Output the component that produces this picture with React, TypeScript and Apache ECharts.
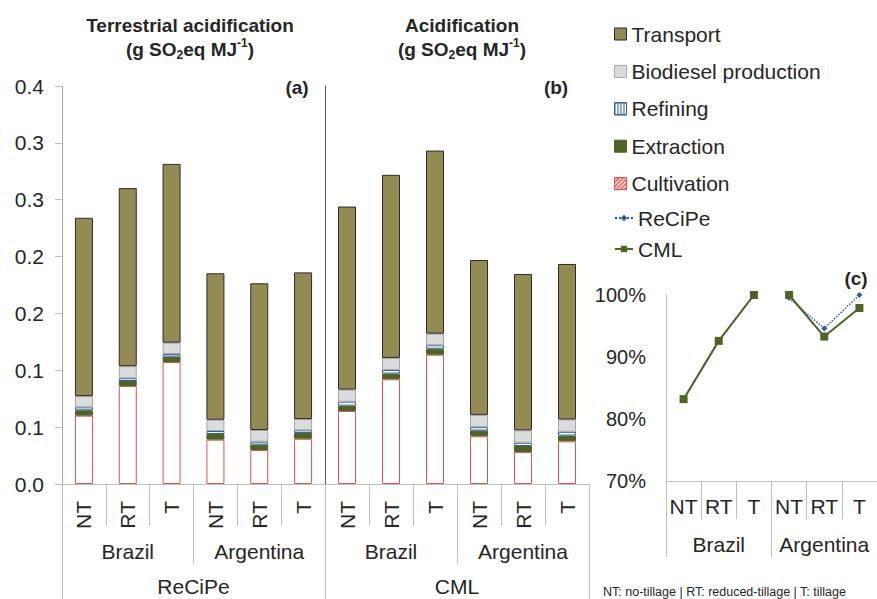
import React, { useEffect, useRef } from 'react';
import * as echarts from 'echarts';

// ---------- data ----------
const tillage = ['NT', 'RT', 'T', 'NT', 'RT', 'T'];
const countries = ['Brazil', 'Argentina'];
const methodLeft = ['ReCiPe'];
const methodRight = ['CML'];

// Panel (a): ReCiPe terrestrial acidification (g SO2eq/MJ), order: Brazil NT,RT,T, Argentina NT,RT,T
const recipeCultivation = [0.0601, 0.0862, 0.1073, 0.0390, 0.0299, 0.0398];
const recipeExtraction = [0.0047, 0.0044, 0.0047, 0.0050, 0.0047, 0.0050];
const recipeRefining = [0.0026, 0.0024, 0.0024, 0.0026, 0.0026, 0.0024];
const recipeBiodiesel = [0.0099, 0.0106, 0.0099, 0.0099, 0.0103, 0.0099];
const recipeTransport = [0.1568, 0.1566, 0.1572, 0.1288, 0.1290, 0.1290];

// Panel (b): CML acidification (g SO2eq/MJ)
const cmlCultivation = [0.0642, 0.0921, 0.1137, 0.0420, 0.0281, 0.0376];
const cmlExtraction = [0.0047, 0.0050, 0.0053, 0.0050, 0.0053, 0.0050];
const cmlRefining = [0.0035, 0.0032, 0.0030, 0.0030, 0.0029, 0.0033];
const cmlBiodiesel = [0.0106, 0.0106, 0.0102, 0.0108, 0.0109, 0.0108];
const cmlTransport = [0.1610, 0.1610, 0.1610, 0.1362, 0.1375, 0.1368];

// Panel (c): relative values (%)
const recipeRelBrazil = [83.2, 92.6, 100];
const recipeRelArgentina = [99.5, 94.6, 100];
const cmlRelBrazil = [83.2, 92.6, 100];
const cmlRelArgentina = [100, 93.3, 97.9];

const yTicksLeft = { min: 0, max: 0.35, interval: 0.05 };
const yTicksRel = { min: 70, max: 100, interval: 10 };

// ---------- styles ----------
const FONT = 'Liberation Sans, Arial, sans-serif';
const TEXT = '#262626';
const AXIS = '#bfbfbf';

const stageStyles: Record<string, any> = {
  Transport: { color: '#948a54', borderColor: '#2b2b2b', borderWidth: 1 },
  'Biodiesel production': { color: '#dcdcdc', borderColor: '#a6a6a6', borderWidth: 1 },
  Refining: { color: '#ffffff', borderColor: '#2f5f9a', borderWidth: 1 },
  Extraction: { color: '#4f6228', borderColor: '#4f6228', borderWidth: 1 },
  Cultivation: { color: '#ffffff', borderColor: '#d9534f', borderWidth: 1 },
};

const legendStageStyles: Record<string, any> = {
  Transport: { color: '#948a54', borderColor: '#2b2b2b', borderWidth: 1 },
  'Biodiesel production': { color: '#dcdcdc', borderColor: '#a6a6a6', borderWidth: 1 },
  Refining: {
    color: '#ffffff', borderColor: '#2f5f9a', borderWidth: 1,
    decal: { symbol: 'rect', symbolSize: 1, color: '#2f5f9a', backgroundColor: '#ffffff', dashArrayX: [1, 1.5], dashArrayY: [1, 0], rotation: 0 },
  },
  Extraction: { color: '#4f6228', borderColor: '#4f6228', borderWidth: 1 },
  Cultivation: {
    color: '#f4c7c3', borderColor: '#d9534f', borderWidth: 1,
    decal: { symbol: 'rect', symbolSize: 1, color: '#d9534f', backgroundColor: '#ffffff', dashArrayX: [1, 1.5], dashArrayY: [1, 0], rotation: Math.PI / 4 },
  },
};

const stageOrderLegend = ['Transport', 'Biodiesel production', 'Refining', 'Extraction', 'Cultivation'];

function fmtLeft(v: number) {
  return (Math.round(v * 10 + 1e-6) / 10).toFixed(1);
}

function catAxis(gridIndex: number, data: string[], tickLen: number, margin: number, extra: any = {}) {
  return {
    type: 'category',
    gridIndex,
    position: 'bottom',
    offset: 0,
    data,
    boundaryGap: true,
    axisLine: { show: false },
    axisTick: { show: true, interval: 0, length: tickLen, lineStyle: { color: AXIS, width: 1 } },
    axisLabel: { interval: 0, margin, fontSize: 21, color: TEXT, fontFamily: FONT },
    splitLine: { show: false },
    ...extra,
  };
}

function barSeries(stack: string, xi: number, yi: number, parts: [string, number[]][]) {
  return parts.map(([name, data]) => ({
    type: 'bar',
    name,
    stack,
    xAxisIndex: xi,
    yAxisIndex: yi,
    barWidth: 18,
    data,
    itemStyle: stageStyles[name],
    emphasis: { disabled: true },
  }));
}

export default function App() {
  const ref = useRef<HTMLDivElement>(null);
  useEffect(() => {
    if (!ref.current) return;
    const chart = echarts.init(ref.current, null, { renderer: 'svg' });

    const pad3 = [null, null, null];
    const titleRich = {
      sub: { fontSize: 12, fontWeight: 'bold', verticalAlign: 'bottom', lineHeight: 12, fontFamily: FONT },
      sup: { fontSize: 12, fontWeight: 'bold', verticalAlign: 'top', lineHeight: 16, fontFamily: FONT },
    };
    const titleText = (x: number, text: string) => ({
      type: 'text',
      x,
      y: 13,
      style: {
        text,
        fill: TEXT,
        fontSize: 19,
        fontWeight: 'bold',
        fontFamily: FONT,
        lineHeight: 24,
        align: 'center',
        textAlign: 'center',
        verticalAlign: 'top',
        rich: titleRich,
      },
    });
    const panelLabel = (x: number, y: number, text: string) => ({
      type: 'text',
      x,
      y,
      style: {
        text, fill: TEXT, fontSize: 19, fontWeight: 'bold', fontFamily: FONT,
        align: 'center', textAlign: 'center', verticalAlign: 'middle', textVerticalAlign: 'middle',
      },
    });

    const option: any = {
      animation: false,
      grid: [
        { left: 62, top: 86, width: 263, height: 398, outerBoundsMode: 'none', containLabel: false },
        { left: 325, top: 86, width: 264, height: 398, outerBoundsMode: 'none', containLabel: false },
        { left: 666, top: 295, width: 211, height: 186, outerBoundsMode: 'none', containLabel: false },
      ],
      xAxis: [
        catAxis(0, tillage, 42, 17, {
          axisLine: { show: true, lineStyle: { color: AXIS, width: 1 } },
          axisLabel: { interval: 0, margin: 17, rotate: 90, fontSize: 21, color: TEXT, fontFamily: FONT },
        }),
        catAxis(0, countries, 80, 57),
        catAxis(0, methodLeft, 120, 92),
        catAxis(1, tillage, 42, 17, {
          axisLine: { show: true, lineStyle: { color: AXIS, width: 1 } },
          axisLabel: { interval: 0, margin: 17, rotate: 90, fontSize: 21, color: TEXT, fontFamily: FONT },
        }),
        catAxis(1, countries, 80, 57),
        catAxis(1, methodRight, 120, 92),
        catAxis(2, tillage, 38, 15, {
          axisLine: { show: true, lineStyle: { color: AXIS, width: 1 } },
          axisLabel: { interval: 0, margin: 15, fontSize: 21, color: TEXT, fontFamily: FONT },
        }),
        catAxis(2, countries, 76, 53),
      ],
      yAxis: [
        {
          type: 'value', gridIndex: 0, ...yTicksLeft,
          axisLine: { show: true, lineStyle: { color: '#a6a6a6', width: 1 } },
          axisTick: { show: true, length: 7, lineStyle: { color: AXIS } },
          axisLabel: { margin: 18, fontSize: 21, color: TEXT, fontFamily: FONT, formatter: fmtLeft },
          splitLine: { show: false },
        },
        {
          type: 'value', gridIndex: 1, ...yTicksLeft,
          axisLine: { show: true, lineStyle: { color: '#595959', width: 1 } },
          axisTick: { show: false },
          axisLabel: { show: false },
          splitLine: { show: false },
        },
        {
          type: 'value', gridIndex: 2, ...yTicksRel,
          axisLine: { show: true, lineStyle: { color: AXIS, width: 1 } },
          axisTick: { show: false },
          axisLabel: { margin: 20, fontSize: 20, color: TEXT, fontFamily: FONT, formatter: '{value}%' },
          splitLine: { show: false },
        },
      ],
      legend: [
        {
          orient: 'vertical',
          left: 609,
          top: 18,
          itemWidth: 12,
          itemHeight: 12,
          itemGap: 15.4,
          selectedMode: false,
          textStyle: { fontSize: 21, color: TEXT, fontFamily: FONT, lineHeight: 22 },
          data: stageOrderLegend.map((n) => ({ name: n, icon: 'rect', itemStyle: legendStageStyles[n] })),
        },
        {
          orient: 'vertical',
          left: 609,
          top: 202,
          itemWidth: 18,
          itemHeight: 8,
          itemGap: 9,
          selectedMode: false,
          textStyle: { fontSize: 21, color: TEXT, fontFamily: FONT, lineHeight: 22 },
          data: ['ReCiPe', 'CML'],
        },
      ],
      graphic: [
        titleText(190, 'Terrestrial acidification\n(g SO{sub|2}eq MJ{sup|-1})'),
        titleText(462, 'Acidification\n(g SO{sub|2}eq MJ{sup|-1})'),
        panelLabel(297, 87, '(a)'),
        panelLabel(556, 87, '(b)'),
        panelLabel(856, 278, '(c)'),
        {
          type: 'text',
          x: 603,
          y: 592,
          style: {
            text: 'NT: no-tillage | RT: reduced-tillage | T: tillage',
            fill: TEXT, fontSize: 12.5, fontFamily: FONT,
            align: 'left', textAlign: 'left', verticalAlign: 'middle', textVerticalAlign: 'middle',
          },
        },
      ],
      series: [
        ...barSeries('recipe', 0, 0, [
          ['Cultivation', recipeCultivation],
          ['Extraction', recipeExtraction],
          ['Refining', recipeRefining],
          ['Biodiesel production', recipeBiodiesel],
          ['Transport', recipeTransport],
        ]),
        ...barSeries('cml', 3, 1, [
          ['Cultivation', cmlCultivation],
          ['Extraction', cmlExtraction],
          ['Refining', cmlRefining],
          ['Biodiesel production', cmlBiodiesel],
          ['Transport', cmlTransport],
        ]),
        ...[
          [...recipeRelBrazil, ...pad3],
          [...pad3, ...recipeRelArgentina],
        ].map((data) => ({
          type: 'line',
          name: 'ReCiPe',
          xAxisIndex: 6,
          yAxisIndex: 2,
          data,
          symbol: 'diamond',
          symbolSize: 6,
          itemStyle: { color: '#2e5c9e' },
          lineStyle: { color: '#2e5c9e', width: 1.5, type: 'dotted' },
          emphasis: { disabled: true },
          z: 3,
        })),
        ...[
          [...cmlRelBrazil, ...pad3],
          [...pad3, ...cmlRelArgentina],
        ].map((data) => ({
          type: 'line',
          name: 'CML',
          xAxisIndex: 6,
          yAxisIndex: 2,
          data,
          symbol: 'rect',
          symbolSize: 8,
          itemStyle: { color: '#4f6228' },
          lineStyle: { color: '#4f6228', width: 2 },
          emphasis: { disabled: true },
          z: 4,
        })),
      ],
    };
    chart.setOption(option);
    return () => chart.dispose();
  }, []);

  return (
    <div
      ref={ref}
      style={{ position: 'fixed', left: 0, top: 0, width: 877, height: 599, background: '#ffffff' }}
    />
  );
}
